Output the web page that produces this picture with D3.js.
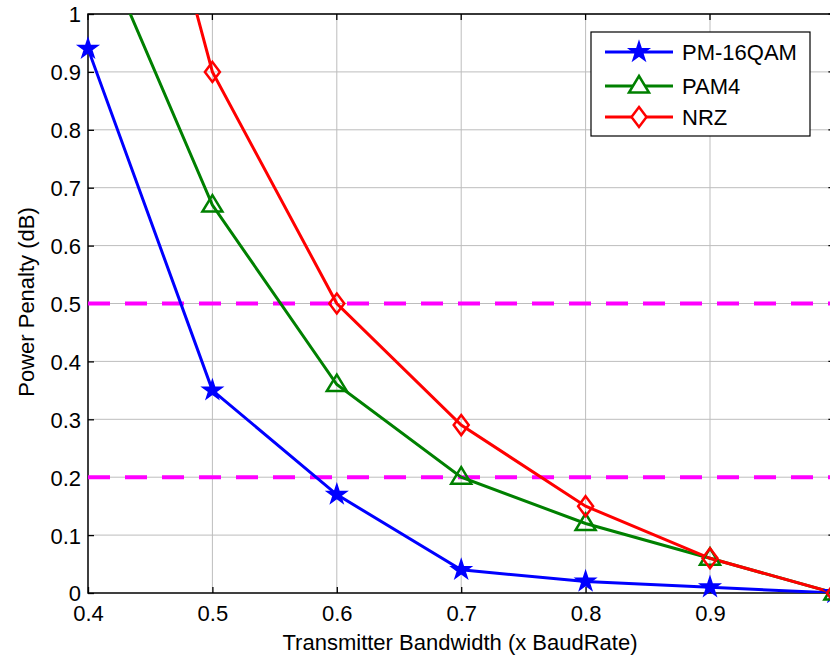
<!DOCTYPE html>
<html><head><meta charset="utf-8">
<script src="https://cdn.jsdelivr.net/npm/d3@7"></script>
<style>body{margin:0;background:#fff;} svg{display:block;font-family:"Liberation Sans",Arial,sans-serif;}</style>
</head><body>
<svg id="chart" width="830" height="656"></svg>
<script>
const bandwidth = [0.4, 0.5, 0.6, 0.7, 0.8, 0.9, 1.0];
const pm16qam = [0.94, 0.35, 0.17, 0.04, 0.02, 0.01, 0.0];
const pam4 = [1.17, 0.67, 0.36, 0.20, 0.12, 0.06, 0.0];
const nrz = [1.70, 0.90, 0.50, 0.29, 0.15, 0.06, 0.0];
const thresholds = [0.5, 0.2];
const xTicks = [0.4, 0.5, 0.6, 0.7, 0.8, 0.9, 1.0];
const yTicks = [0, 0.1, 0.2, 0.3, 0.4, 0.5, 0.6, 0.7, 0.8, 0.9, 1];
const seriesNames = ["PM-16QAM", "PAM4", "NRZ"];
const seriesColors = ["#0000ff", "#008000", "#ff0000"];
const seriesMarkers = ["star", "triangle", "diamond"];
const seriesValues = [pm16qam, pam4, nrz];

const FS = "22px";
const svg = d3.select("#chart");
const L = 88, T = 14, R = 834.4, B = 593;
const x = d3.scaleLinear().domain([0.4, 1.0]).range([L, R]);
const y = d3.scaleLinear().domain([0, 1]).range([B, T]);

const defs = svg.append("defs");
defs.append("clipPath").attr("id", "clip")
  .append("rect").attr("x", L).attr("y", T).attr("width", R - L).attr("height", B - T);
defs.append("clipPath").attr("id", "clipM")
  .append("rect").attr("x", 0).attr("y", T - 12).attr("width", 830).attr("height", B - T + 24);

// grid
const grid = svg.append("g");
grid.selectAll(".gx").data(xTicks.slice(1)).enter().append("line")
  .attr("x1", d => x(d)).attr("x2", d => x(d)).attr("y1", T).attr("y2", B)
  .attr("stroke", "#bdbdbd").attr("stroke-width", 1);
grid.selectAll(".gy").data(yTicks.slice(1)).enter().append("line")
  .attr("x1", L).attr("x2", R).attr("y1", d => y(d)).attr("y2", d => y(d))
  .attr("stroke", "#bdbdbd").attr("stroke-width", 1);

// axes
const xAxis = d3.axisBottom(x).tickValues(xTicks).tickSize(-6)
  .tickFormat(d => d >= 1 ? "" : d3.format(".1f")(d));
const yAxis = d3.axisLeft(y).tickValues(yTicks).tickSize(-6)
  .tickFormat(d => (d === 0 || d === 1) ? String(d) : d3.format(".1f")(d));
const gx = svg.append("g").attr("transform", `translate(0,${B})`).call(xAxis);
const gy = svg.append("g").attr("transform", `translate(${L},0)`).call(yAxis);
[gx, gy].forEach(g => {
  g.select(".domain").remove();
  g.selectAll(".tick line").attr("stroke", "#000").attr("stroke-width", 1.3);
  g.selectAll(".tick text").attr("fill", "#000").style("font-size", FS)
    .style("font-family", "Liberation Sans, Arial, sans-serif");
});
gx.selectAll(".tick text").attr("dy", null).attr("y", 28);
gy.selectAll(".tick text").attr("x", -7).attr("dy", "0.36em");
// top/right ticks
svg.append("g").selectAll("line").data(xTicks).enter().append("line")
  .attr("x1", d => x(d)).attr("x2", d => x(d)).attr("y1", T).attr("y2", T + 6)
  .attr("stroke", "#000").attr("stroke-width", 1.3);
svg.append("g").selectAll("line").data(yTicks).enter().append("line")
  .attr("x1", R).attr("x2", R - 6).attr("y1", d => y(d)).attr("y2", d => y(d))
  .attr("stroke", "#000").attr("stroke-width", 1.3);
// frame
svg.append("rect").attr("x", L).attr("y", T).attr("width", R - L).attr("height", B - T)
  .attr("fill", "none").attr("stroke", "#000").attr("stroke-width", 1.5);

// thresholds
svg.append("g").selectAll("line").data(thresholds).enter().append("line")
  .attr("x1", L).attr("x2", R).attr("y1", d => y(d)).attr("y2", d => y(d))
  .attr("stroke", "#ff00ff").attr("stroke-width", 4).attr("stroke-dasharray", "22,15");

function markerPath(type) {
  if (type === "star") return d3.symbol().type(d3.symbolStar).size(118)();
  if (type === "triangle") return "M0,-10L10,6.5L-10,6.5Z";
  return "M0,-10L7.5,0L0,10L-7.5,0Z";
}

const plot = svg.append("g").attr("clip-path", "url(#clip)");
const line = d3.line().x((d, i) => x(bandwidth[i])).y(d => y(d));
seriesValues.forEach((vals, k) => {
  plot.append("path").datum(vals).attr("d", line)
    .attr("fill", "none").attr("stroke", seriesColors[k]).attr("stroke-width", 3);
});
const markG = svg.append("g").attr("clip-path", "url(#clipM)");
seriesValues.forEach((vals, k) => {
  const pts = vals.map((v, i) => [bandwidth[i], v]).filter(p => p[1] <= 1);
  markG.selectAll(null).data(pts).enter().append("path")
    .attr("transform", d => `translate(${x(d[0])},${y(d[1])})`)
    .attr("d", markerPath(seriesMarkers[k]))
    .attr("fill", seriesMarkers[k] === "star" ? seriesColors[k] : "none")
    .attr("stroke", seriesColors[k]).attr("stroke-width", seriesMarkers[k] === "star" ? 1.5 : 2.5);
});

// legend
const lg = svg.append("g");
lg.append("rect").attr("x", 591).attr("y", 32).attr("width", 219).attr("height", 104)
  .attr("fill", "#fff").attr("stroke", "#000").attr("stroke-width", 1.2);
const rowsY = [52, 86, 117];
seriesNames.forEach((name, k) => {
  lg.append("line").attr("x1", 605).attr("x2", 673).attr("y1", rowsY[k]).attr("y2", rowsY[k])
    .attr("stroke", seriesColors[k]).attr("stroke-width", 3);
  lg.append("path").attr("transform", `translate(639,${rowsY[k]})`)
    .attr("d", markerPath(seriesMarkers[k]))
    .attr("fill", seriesMarkers[k] === "star" ? seriesColors[k] : "#fff")
    .attr("stroke", seriesColors[k]).attr("stroke-width", seriesMarkers[k] === "star" ? 1.5 : 2.5);
  lg.append("text").attr("x", 682).attr("y", rowsY[k]).attr("dy", "0.36em")
    .style("font-size", FS).attr("fill", "#000").text(name);
});

// axis labels
svg.append("text").attr("x", 460).attr("y", 650).attr("text-anchor", "middle")
  .style("font-size", FS).attr("fill", "#000").text("Transmitter Bandwidth (x BaudRate)");
svg.append("text").attr("transform", `translate(34,302) rotate(-90)`).attr("text-anchor", "middle")
  .style("font-size", FS).attr("fill", "#000").text("Power Penalty (dB)");
</script>
</body></html>
